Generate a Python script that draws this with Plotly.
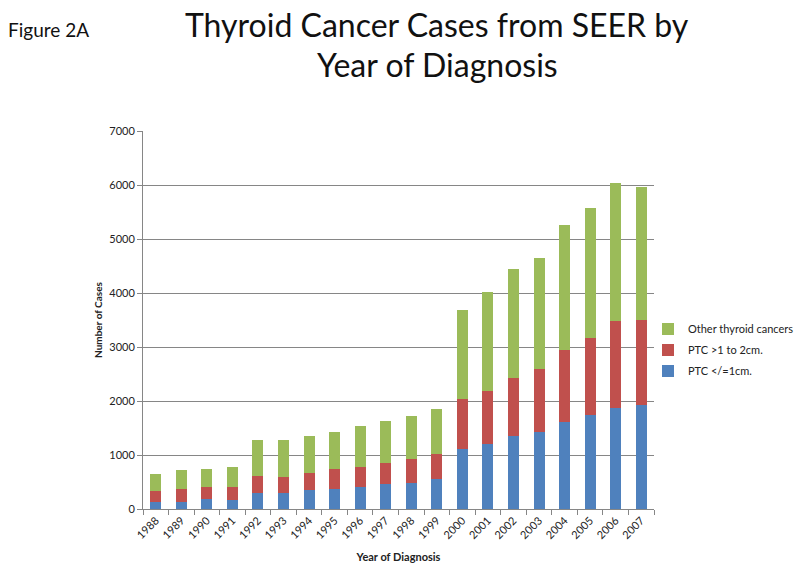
import plotly.graph_objects as go

years = [str(y) for y in range(1988, 2008)]
# cumulative tops
blue_top = [131, 131, 188, 169, 294, 294, 344, 363, 400, 457, 487, 549, 1111, 1203, 1345, 1419, 1604, 1746, 1876, 1925]
red_top = [325, 363, 400, 400, 613, 594, 663, 738, 770, 858, 926, 1012, 2036, 2190, 2431, 2598, 2943, 3159, 3474, 3505]
green_top = [644, 719, 744, 775, 1275, 1275, 1344, 1431, 1530, 1623, 1715, 1857, 3683, 4023, 4442, 4652, 5251, 5565, 6028, 5954]

ptc_small = blue_top
ptc_mid = [r - b for r, b in zip(red_top, blue_top)]
other = [g - r for g, r in zip(green_top, red_top)]

title_lines = ["Thyroid Cancer Cases from SEER by", "Year of Diagnosis"]

font_family = "Lato, 'Open Sans', sans-serif"
W, H = 800, 569
ML, MR, MT, MB = 143, 146, 131, 60
plot_w = W - ML - MR
plot_h = H - MT - MB

def ax(px):
    return (px - ML) / plot_w

def ay(py):
    return (H - MB - py) / plot_h

fig = go.Figure()
fig.add_trace(go.Bar(x=years, y=ptc_small, name="PTC </=1cm.", legendgroup="a", legendrank=3,
                     marker_color="#4F81BD", marker_line_width=0))
fig.add_trace(go.Bar(x=years, y=ptc_mid, name="PTC >1 to 2cm.", legendgroup="b", legendrank=2,
                     marker_color="#C0504D", marker_line_width=0))
fig.add_trace(go.Bar(x=years, y=other, name="Other thyroid cancers", legendgroup="c", legendrank=1,
                     marker_color="#9BBB59", marker_line_width=0))

fig.update_layout(
    barmode="stack",
    bargap=0.57,
    width=W, height=H,
    autosize=False,
    margin=dict(l=ML, r=MR, t=MT, b=MB, autoexpand=False),
    paper_bgcolor="white",
    plot_bgcolor="white",
    font=dict(family=font_family, color="#404040", size=11),
    showlegend=True,
    legend=dict(
        traceorder="grouped",
        tracegroupgap=2,
        xref="container", yref="container",
        x=648 / W, xanchor="left",
        y=1 - 350 / H, yanchor="middle",
        font=dict(size=11, color="#222222"),
        bgcolor="rgba(0,0,0,0)",
    ),
    annotations=[
        dict(text=title_lines[0],
             x=ax(437), y=ay(24), xref="paper", yref="paper", showarrow=False,
             xanchor="center", yanchor="middle",
             font=dict(size=32, color="#111111", family=font_family)),
        dict(text=title_lines[1],
             x=ax(437), y=ay(64), xref="paper", yref="paper", showarrow=False,
             xanchor="center", yanchor="middle",
             font=dict(size=32, color="#111111", family=font_family)),
        dict(text="Figure 2A", x=ax(6), y=ay(29), xref="paper", yref="paper", showarrow=False,
             xanchor="left", yanchor="middle", font=dict(size=19, color="#111111", family=font_family)),
    ],
)

fig.update_xaxes(
    type="category",
    tickangle=-45,
    tickson="boundaries",
    ticks="outside", ticklen=5, tickcolor="#868686",
    showline=True, linecolor="#868686", linewidth=1,
    showgrid=False,
    automargin=False,
    tickfont=dict(size=11, color="#222222"),
    title=dict(text="<b>Year of Diagnosis</b>", font=dict(size=11, color="#222222"), standoff=13),
)
fig.update_yaxes(
    range=[0, 7000],
    dtick=1000,
    ticks="outside", ticklen=5, tickcolor="#868686",
    showline=True, linecolor="#868686", linewidth=1,
    showgrid=True, gridcolor="#868686", gridwidth=1,
    automargin=False,
    tickfont=dict(size=11, color="#222222"),
    title=dict(text="<b>Number of Cases</b>", font=dict(size=10, color="#222222"), standoff=4),
    zeroline=False,
)

fig.write_html("out.html", config={"displayModeBar": False},
               post_script="document.body.style.margin='0';")
